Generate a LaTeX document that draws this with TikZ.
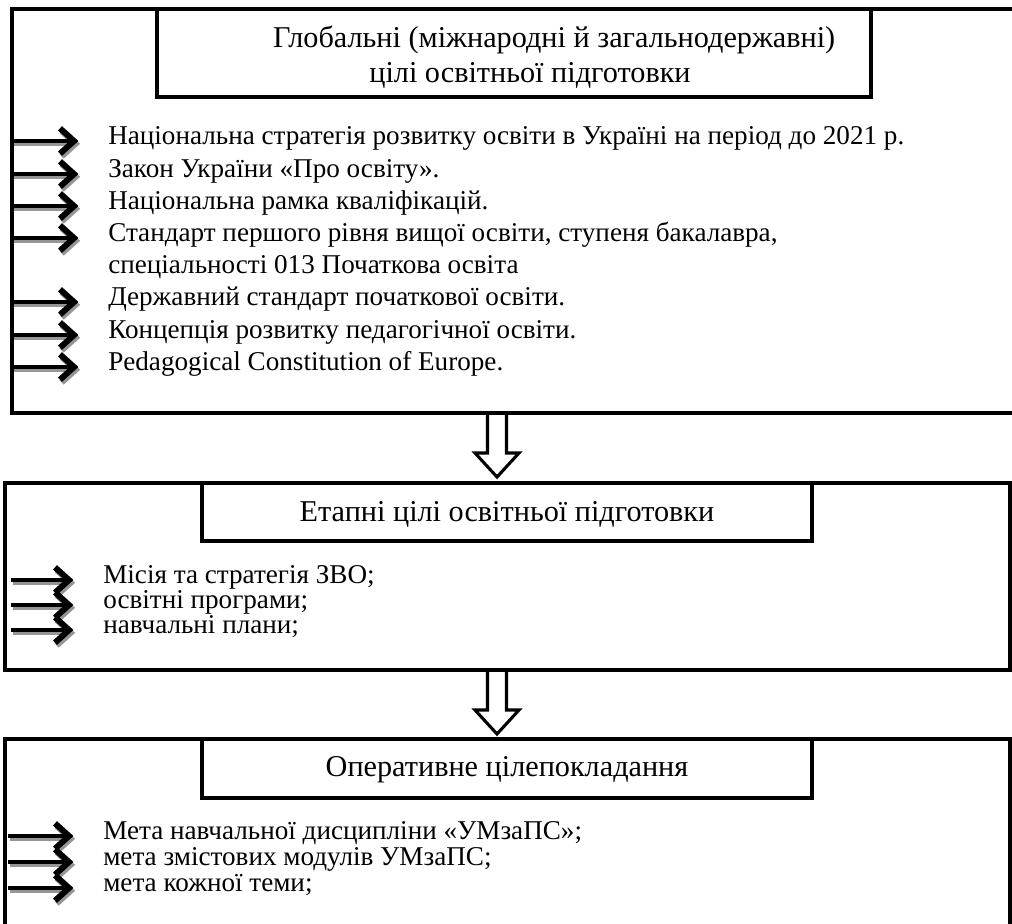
\documentclass[tikz,border=0pt]{standalone}
\usepackage{fontspec}
\setmainfont{Liberation Serif}
\usetikzlibrary{arrows.meta}

\definecolor{figshadow}{RGB}{150,150,150}

\tikzset{
  frame/.style={line width=2.6pt},
  titletext/.style={inner sep=0pt,align=center,font=\fontsize{21.5}{25}\selectfont},
  item/.style={anchor=west,inner sep=0pt,text height=1.5ex,text depth=0.3ex,
    font=\fontsize{19.3}{23}\selectfont},
  ptr/.style={line width=3.4pt,-{Straight Barb[length=10pt,width=18pt,line width=4.2pt]}},
  ptrshadow/.style={ptr,figshadow},
  hollow/.style={line width=2.2pt,line join=miter},
  downarr/.pic={\draw[hollow] (-9.5,0) -- (-9.5,40) -- (-22,40) -- (0,64) -- (22,40)
    -- (9.5,40) -- (9.5,0);}
}

% arrow from the frame edge to an item
\newcommand\goalptr[2]{%
  \draw[ptrshadow] ([xshift=1.2pt,yshift=-2pt]#1 |- #2.west) -- ([xshift=-19.8pt,yshift=-2pt]#2.west);
  \draw[ptr] (#1 |- #2.west) -- ([xshift=-21pt]#2.west);}

\begin{document}
\begin{tikzpicture}[x=0.025cm,y=-0.025cm]
  \useasboundingbox (0,0) rectangle (1012,923);
  \clip (0,0) rectangle (1012,923);

  % global goals
  \coordinate (f1) at (12,9);
  \draw[frame] (f1) rectangle (1030,413);
  \draw[frame] (157,9) rectangle (871,97);
  \node[titletext] (t1) at (530,57) {\hspace*{1.6em}Глобальні (міжнародні й загальнодержавні)\\цілі освітньої підготовки};
  \node[item] (g1) at (108,141) {Національна стратегія розвитку освіти в Україні на період до 2021 р.};
  \node[item] (g2) at (108,174) {Закон України «Про освіту».};
  \node[item] (g3) at (108,206) {Національна рамка кваліфікацій.};
  \node[item] (g4) at (108,238) {Стандарт першого рівня вищої освіти, ступеня бакалавра,};
  \node[item] (g4b) at (108,270) {спеціальності 013 Початкова освіта};
  \node[item] (g5) at (108,302) {Державний стандарт початкової освіти.};
  \node[item] (g6) at (108,335) {Концепція розвитку педагогічної освіти.};
  \node[item] (g7) at (108,367) {Pedagogical Constitution of Europe.};
  \foreach \g in {g1,g2,g3,g4,g5,g6,g7}{\goalptr{f1}{\g}}

  \pic at (497,413) {downarr};

  % stage goals
  \coordinate (f2) at (5,483);
  \coordinate (p2) at (11,483);
  \draw[frame] (f2) rectangle (1010,670);
  \draw[frame] (202,483) rectangle (812,541);
  \node[titletext] (t2) at (507,514) {Етапні цілі освітньої підготовки};
  \node[item] (s1) at (103,580) {Місія та стратегія ЗВО;};
  \node[item] (s2) at (103,605) {освітні програми;};
  \node[item] (s3) at (103,630) {навчальні плани;};
  \foreach \s in {s1,s2,s3}{\goalptr{p2}{\s}}

  \pic at (497,670) {downarr};

  % operative goal setting
  \coordinate (f3) at (5,739);
  \coordinate (p3) at (8,739);
  \draw[frame] (f3) rectangle (1010,950);
  \draw[frame] (202,739) rectangle (812,798);
  \node[titletext] (t3) at (507,770) {Оперативне цілепокладання};
  \node[item] (o1) at (103,836) {Мета навчальної дисципліни «УМзаПС»;};
  \node[item] (o2) at (103,862) {мета змістових модулів УМзаПС;};
  \node[item] (o3) at (103,888) {мета кожної теми;};
  \foreach \o in {o1,o2,o3}{\goalptr{p3}{\o}}
\end{tikzpicture}
\end{document}
